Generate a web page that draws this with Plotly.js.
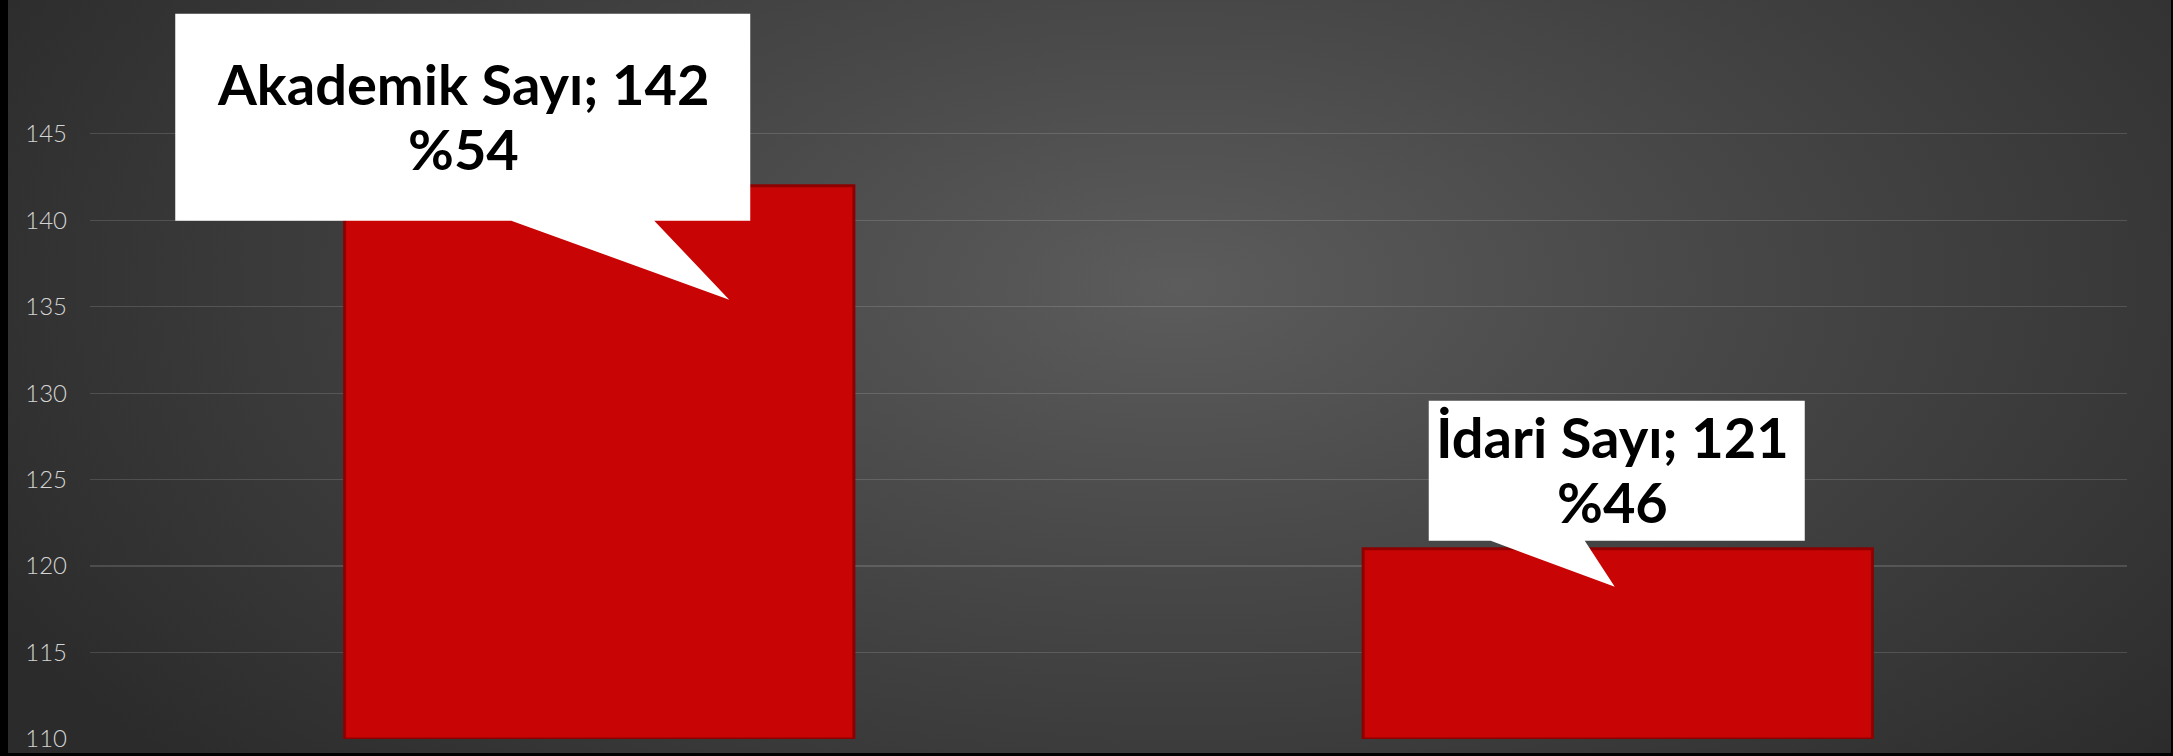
<!DOCTYPE html>
<html>
<head>
<meta charset="utf-8">
<script src="https://cdn.plot.ly/plotly-3.0.1.min.js"></script>
<style>
  html, body { margin: 0; padding: 0; background: #000; width: 2173px; height: 756px; overflow: hidden; }
  #bg { position: absolute; left: 8px; top: 0; width: 2163px; height: 753px;
        background: radial-gradient(ellipse 62% 95% at 54% 38%, #5c5c5c 0%, #4a4a4a 35%, #2b2b2b 100%); }
  #chart { position: absolute; left: 0; top: 0; width: 2173px; height: 756px; }
</style>
</head>
<body>
<div id="bg"></div>
<div id="chart"></div>
<script>
const categories = ['Akademik Sayı', 'İdari Sayı'];
const values = [142, 121];
const percents = ['%54', '%46'];
const tickValues = [110, 115, 120, 125, 130, 135, 140, 145];
const axisMin = 110;

// callout outlines in pixels relative to the top-centre of each bar (screen y grows downward)
const calloutPaths = [
  [[-424,-172],[151,-172],[151,35],[55,35],[130,114],[-88,35],[-424,35]],
  [[-189,-148],[187,-148],[187,-8],[-33,-8],[-3,38],[-127,-8],[-189,-8]]
];
// [xshift, yshift line 1, yshift line 2]
const textOffsets = [[-136, 102, 37], [-5, 112, 47]];

function toPath(pts) {
  return 'M ' + pts.map(p => p[0] + ',' + (-p[1])).join(' L ') + ' Z';
}

const trace = {
  type: 'bar',
  x: categories,
  y: values.map(v => v - axisMin),
  base: axisMin,
  marker: { color: '#c90404', line: { color: '#8e0000', width: 3 } },
  hoverinfo: 'skip'
};

const shapes = categories.map((c, i) => ({
  type: 'path',
  xref: 'x', yref: 'y',
  xsizemode: 'pixel', ysizemode: 'pixel',
  xanchor: i, yanchor: values[i],
  path: toPath(calloutPaths[i]),
  fillcolor: '#ffffff',
  line: { width: 0 },
  layer: 'above'
}));

const labelFont = { family: 'Lato, sans-serif', size: 56, weight: 'bold', color: '#000000' };
const annotations = [];
categories.forEach((c, i) => {
  annotations.push({
    xref: 'x', yref: 'y', x: i, y: values[i],
    xshift: textOffsets[i][0], yshift: textOffsets[i][1],
    xanchor: 'center', yanchor: 'middle', showarrow: false,
    text: c + '; ' + values[i], font: labelFont
  });
  annotations.push({
    xref: 'x', yref: 'y', x: i, y: values[i],
    xshift: textOffsets[i][0], yshift: textOffsets[i][2],
    xanchor: 'center', yanchor: 'middle', showarrow: false,
    text: percents[i], font: labelFont
  });
});

const layout = {
  width: 2173, height: 756,
  margin: { l: 90, r: 46, t: 0, b: 17, pad: 0 },
  paper_bgcolor: 'rgba(0,0,0,0)',
  plot_bgcolor: 'rgba(0,0,0,0)',
  showlegend: false,
  bargap: 0.5,
  xaxis: { type: 'category', showticklabels: false, showgrid: false, zeroline: false, showline: false, fixedrange: true },
  yaxis: {
    range: [axisMin, 152.74],
    tickmode: 'array', tickvals: tickValues, ticktext: tickValues.map(String),
    showgrid: true, gridcolor: 'rgba(255,255,255,0.14)', gridwidth: 1.3,
    zeroline: false, showline: false, ticks: '',
    ticklabelstandoff: 22,
    tickfont: { family: 'Lato, sans-serif', size: 24, weight: 300, color: '#d4d4d4' },
    fixedrange: true
  },
  shapes: shapes,
  annotations: annotations
};

Plotly.newPlot('chart', [trace], layout, { displayModeBar: false, staticPlot: true });
</script>
</body>
</html>
